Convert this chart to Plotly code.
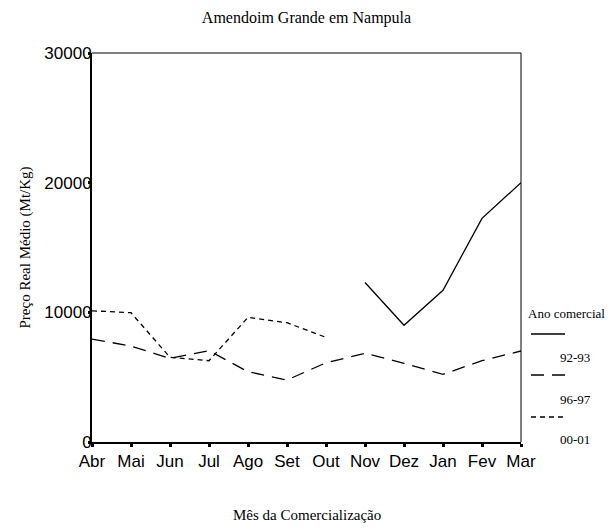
import plotly.graph_objects as go

months = ['Abr', 'Mai', 'Jun', 'Jul', 'Ago', 'Set', 'Out', 'Nov', 'Dez', 'Jan', 'Fev', 'Mar']
s_92_93 = [None, None, None, None, None, None, None, 12300, 9000, 11700, 17250, 20000]
s_96_97 = [7940, 7400, 6450, 7040, 5420, 4780, 6110, 6840, 6070, 5220, 6270, 7020]
s_00_01 = [10120, 9970, 6530, 6270, 9610, 9200, 8070, None, None, None, None, None]
series_names = ['92-93', '96-97', '00-01']
y_ticks = [0, 10000, 20000, 30000]

OFF = 8  # default page body margin
W, H = 613 - OFF, 528 - OFF
L, R, T, B = 92 - OFF, 92, 53 - OFF, 86
pw, ph = W - L - R, H - T - B

def px(x):
    return (x - OFF - L) / pw

def py(y):
    return (OFF + T + ph - y) / ph

dashes = ['solid', '13px,8px', '5px,4px']
fig = go.Figure()
for name, vals, d in zip(series_names, [s_92_93, s_96_97, s_00_01], dashes):
    fig.add_trace(go.Scatter(x=months, y=vals, mode='lines', name=name,
                             line=dict(color='black', width=1.3, dash=d),
                             connectgaps=False, showlegend=False))

shapes = [
    dict(type='line', xref='paper', yref='paper', x0=0, x1=1, y0=1, y1=1,
         line=dict(color='black', width=1)),
    dict(type='line', xref='paper', yref='paper', x0=1, x1=1, y0=0, y1=1,
         line=dict(color='black', width=1)),
]
annotations = [
    dict(text='Mês da Comercialização', xref='paper', yref='paper', x=0.5, y=0,
         xanchor='center', yanchor='middle', yshift=-73, showarrow=False,
         font=dict(family='Liberation Serif', size=15, color='black')),
    dict(text='Preço Real Médio (Mt/Kg)', xref='paper', yref='paper', x=0, y=0.5,
         xanchor='center', yanchor='middle', xshift=-67, textangle=-90, showarrow=False,
         font=dict(family='Liberation Serif', size=15, color='black')),
    dict(text='Ano comercial', xref='paper', yref='paper', x=px(526), y=py(313),
         xanchor='left', yanchor='middle', showarrow=False,
         font=dict(family='Liberation Serif', size=13, color='black')),
]
leg_line_y = [334, 375, 417]
leg_text_y = [357, 399, 439]
for name, d, ly, ty in zip(series_names, dashes, leg_line_y, leg_text_y):
    shapes.append(dict(type='line', xref='paper', yref='paper', x0=px(531), x1=px(565),
                       y0=py(ly), y1=py(ly), line=dict(color='black', width=1.3, dash=d)))
    annotations.append(dict(text=name, xref='paper', yref='paper', x=px(558), y=py(ty),
                            xanchor='left', yanchor='middle', showarrow=False,
                            font=dict(family='Liberation Serif', size=13, color='black')))

fig.update_layout(
    width=W, height=H,
    margin=dict(l=L, r=R, t=T, b=B, autoexpand=False),
    paper_bgcolor='white', plot_bgcolor='white',
    title=dict(text='Amendoim Grande em Nampula', x=0.5 * (W - R + L) / W, xanchor='center',
               y=1 - (17 - OFF) / H, yanchor='middle', yref='container',
               font=dict(family='Liberation Serif', size=16, color='black')),
    xaxis=dict(type='category', range=[0, 11], showgrid=False, zeroline=False,
               showline=True, linecolor='black', linewidth=2,
               ticks='outside', ticklen=3, tickwidth=3, tickcolor='black',
               tickfont=dict(family='Liberation Sans', size=17, color='black')),
    yaxis=dict(range=[0, 30000], tickvals=y_ticks, tickformat='d', showgrid=False,
               zeroline=False, showline=True, linecolor='black', linewidth=2,
               ticks='outside', ticklen=2, tickwidth=3, tickcolor='black',
               ticklabelstandoff=-7,
               tickfont=dict(family='Liberation Sans', size=17, color='black')),
    shapes=shapes, annotations=annotations,
)
fig.write_html('out.html')
